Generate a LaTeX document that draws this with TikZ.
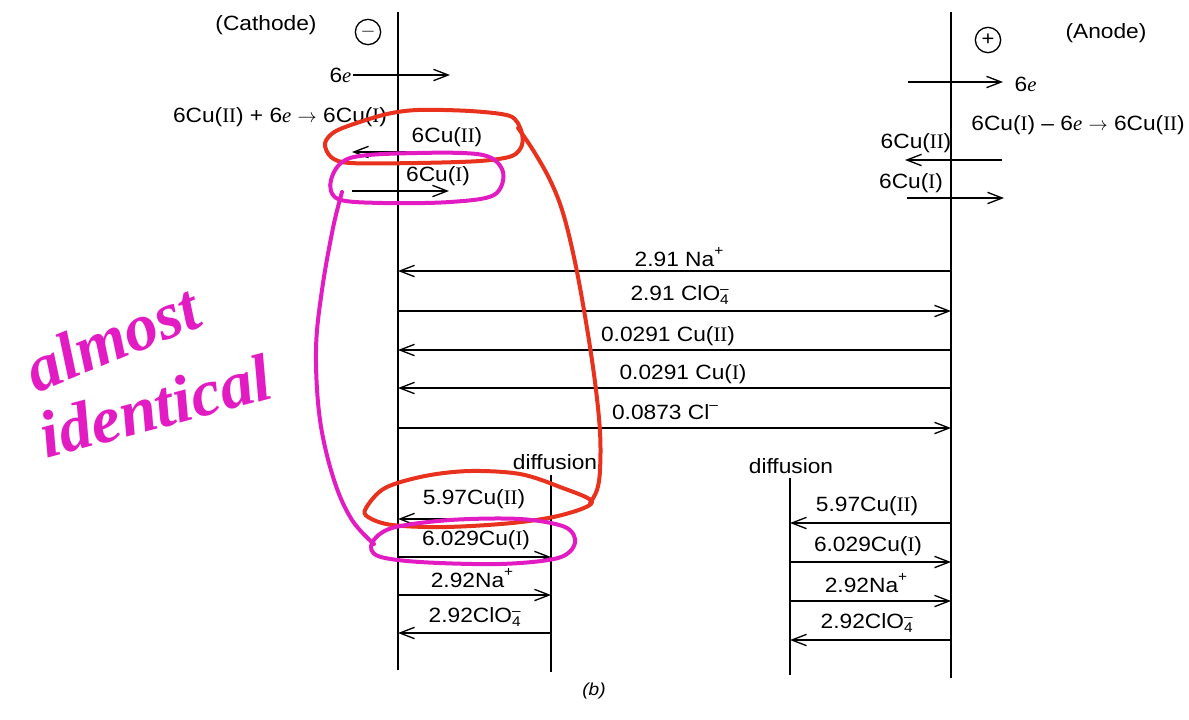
\documentclass[tikz,border=0pt]{standalone}
\usepackage{fontspec}
\setmainfont{Liberation Sans}[FakeStretch=1.1]
\newfontfamily\serifface{Liberation Serif}
\usetikzlibrary{arrows.meta}
\newcommand\rnum[1]{{\serifface #1}}
\newcommand\elec{{\serifface\itshape e}}
\newcommand\ionsub[2]{$^{\mbox{\fontsize{10.5}{10}\selectfont #1}}_{\mbox{\fontsize{10.5}{10}\selectfont #2}}$}
\newcommand\ionsup[1]{\raisebox{0.5em}{\fontsize{10.5}{10}\selectfont #1}}
\definecolor{penred}{HTML}{E8321E}
\definecolor{penmagenta}{HTML}{E21CC2}
\begin{document}
\begin{tikzpicture}[x=0.75pt,y=-0.75pt,
  lab/.style={font=\fontsize{15.5}{17}\selectfont, inner sep=1pt},
  electrode/.style={line width=1.9pt},
  flow/.style={line width=1pt,-{Straight Barb[length=11pt,width=8.5pt,line width=1pt]}},
  redpen/.style={penred, line width=3pt, line cap=round, line join=round},
  magpen/.style={penmagenta, line width=3pt, line cap=round, line join=round},
  sign/.style={circle, draw, line width=1pt, minimum size=19pt, inner sep=0pt, font=\fontsize{15}{16}\selectfont},
  hand/.style={penmagenta, font=\fontsize{50}{52}\selectfont\serifface\itshape\bfseries, inner sep=0pt}
]
\useasboundingbox (0,0) rectangle (1189,719);
\fill[white] (0,0) rectangle (1189,719);

% electrodes and diffusion boundaries
\coordinate (cT) at (398,12);  \coordinate (cB) at (398,670);
\coordinate (aT) at (951,12);  \coordinate (aB) at (951,678);
\coordinate (dlT) at (551,475); \coordinate (dlB) at (551,672);
\coordinate (drT) at (790,478); \coordinate (drB) at (790,675);
\draw[electrode] (cT) -- (cB);
\draw[electrode] (aT) -- (aB);
\draw[electrode] (dlT) -- (dlB);
\draw[electrode] (drT) -- (drB);

% headers
\node[lab] (cath) at (266,25) {(Cathode)};
\node[sign] (minus) at (368,32) {$-$};
\node[sign] (plus) at (988,40) {+};
\node[lab] (anod) at (1106,33) {(Anode)};

% cathode side top
\node[lab, anchor=east] (e1) at (353,75) {6\elec};
\coordinate (e1h) at (450,75);
\draw[flow] (e1.east |- e1h) -- (e1h);
\node[lab] (eqc) at (280,117) {6Cu(\rnum{II}) + 6\elec{} $\rightarrow$ 6Cu(\rnum{I})};
\node[lab] (c2lab) at (447,137) {6Cu(\rnum{II})};
\coordinate (c2t) at (447,152); \coordinate (c2h) at (352,152);
\draw[flow] (c2t) -- (c2h);
\node[lab] (c1lab) at (438,176) {6Cu(\rnum{I})};
\coordinate (c1t) at (352,191); \coordinate (c1h) at (449,191);
\draw[flow] (c1t) -- (c1h);

% anode side top
\coordinate (e2t) at (908,82); \coordinate (e2h) at (1003,82);
\node[lab, anchor=west] (e2) at (1013,84) {6\elec};
\draw[flow] (e2t) -- (e2h);
\node[lab] (eqa) at (1078,125) {6Cu(\rnum{I}) -- 6\elec{} $\rightarrow$ 6Cu(\rnum{II})};
\node[lab] (a2lab) at (916,143) {6Cu(\rnum{II})};
\coordinate (a2t) at (1002,160); \coordinate (a2h) at (905,160);
\draw[flow] (a2t) -- (a2h);
\node[lab] (a1lab) at (911,183) {6Cu(\rnum{I})};
\coordinate (a1t) at (907,198); \coordinate (a1h) at (1004,198);
\draw[flow] (a1t) -- (a1h);

% migration across the cell
\foreach \n/\y in {na/271, cl/311, cu2/350, cu1/388, chl/428}{
  \coordinate (L\n) at (398,\y);
  \coordinate (R\n) at (951,\y);
}
\node[lab] (mna) at (679,257) {2.91 Na\ionsup{+}};
\node[lab] (mcl) at (680,295) {2.91 ClO\ionsub{--}{4}};
\node[lab] (mcu2) at (668,336) {0.0291 Cu(\rnum{II})};
\node[lab] (mcu1) at (683,374) {0.0291 Cu(\rnum{I})};
\node[lab] (mchl) at (665,412) {0.0873 Cl\ionsup{--}};
\draw[flow] (Rna) -- (Lna);
\draw[flow] (Lcl) -- (Rcl);
\draw[flow] (Rcu2) -- (Lcu2);
\draw[flow] (Rcu1) -- (Lcu1);
\draw[flow] (Lchl) -- (Rchl);

% diffusion layers
\node[lab] (difl) at (555,462) {diffusion};
\node[lab] (difr) at (791,466) {diffusion};

\foreach \n/\y in {a/519, b/557, c/595, d/633}{
  \coordinate (CL\n) at (398,\y);
  \coordinate (DL\n) at (551,\y);
}
\node[lab] (l1) at (474,499) {5.97Cu(\rnum{II})};
\node[lab] (l2) at (476,540) {6.029Cu(\rnum{I})};
\node[lab] (l3) at (472,578) {2.92Na\ionsup{+}};
\node[lab] (l4) at (475,617) {2.92ClO\ionsub{--}{4}};
\draw[flow] (DLa) -- (CLa);
\draw[flow] (CLb) -- (DLb);
\draw[flow] (CLc) -- (DLc);
\draw[flow] (DLd) -- (CLd);

\foreach \n/\y in {a/523, b/562, c/601, d/640}{
  \coordinate (DR\n) at (790,\y);
  \coordinate (AR\n) at (951,\y);
}
\node[lab] (r1) at (867,506) {5.97Cu(\rnum{II})};
\node[lab] (r2) at (868,546) {6.029Cu(\rnum{I})};
\node[lab] (r3) at (866,583) {2.92Na\ionsup{+}};
\node[lab] (r4) at (867,623) {2.92ClO\ionsub{--}{4}};
\draw[flow] (ARa) -- (DRa);
\draw[flow] (DRb) -- (ARb);
\draw[flow] (DRc) -- (ARc);
\draw[flow] (ARd) -- (DRd);

\node[font=\fontsize{13}{15}\selectfont\itshape] (cap) at (594,691) {(b)};

% hand-drawn annotations: red
\draw[redpen] plot[smooth cycle, tension=0.5] coordinates {(325,143) (338,130) (383,115) (417,110) (470,111) (510,116) (521,130) (522,145) (512,156) (480,161) (417,163) (350,163) (331,157)};
\draw[redpen] plot[smooth, tension=0.6] coordinates {(518,128) (533,150) (550,180) (563,213) (575,262) (586,322) (595,382) (600,432) (600,470) (597,490) (590,503)};
\draw[redpen] plot[smooth cycle, tension=0.55] coordinates {(366,508) (385,488) (425,476) (470,471) (520,474) (560,487) (592,502) (562,515) (512,523) (445,527) (392,525) (368,517)};
% hand-drawn annotations: magenta
\draw[magpen] plot[smooth cycle, tension=0.55] coordinates {(331,180) (350,158) (417,153) (483,155) (503,172) (494,195) (450,202) (383,203) (338,199)};
\draw[magpen] plot[smooth, tension=0.6] coordinates {(342,192) (333,228) (322,290) (316,350) (320,420) (334,480) (352,520) (374,544)};
\draw[magpen] plot[smooth cycle, tension=0.55] coordinates {(372,543) (392,528) (450,520) (520,519) (565,527) (575,543) (558,558) (500,564) (420,562) (378,556)};
\node[hand, rotate=22] (w1) at (112,338) {almost};
\node[hand, rotate=15] (w2) at (155,406) {identical};
\end{tikzpicture}
\end{document}
